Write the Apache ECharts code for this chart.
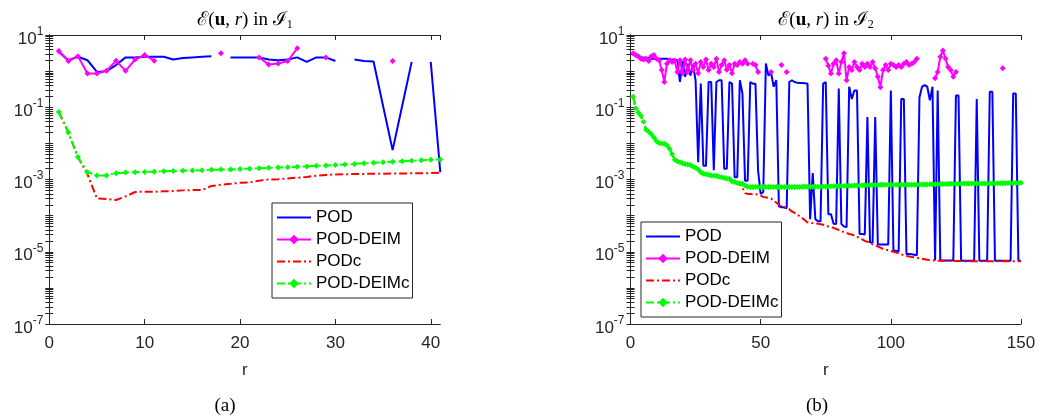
<!DOCTYPE html>
<html>
<head>
<meta charset="utf-8">
<title>E(u, r) in I1 / I2</title>
<script src="https://cdn.jsdelivr.net/npm/echarts@6/dist/echarts.min.js"></script>
<style>
  html, body { margin: 0; padding: 0; background: #fff; }
  #main { width: 1039px; height: 419px; }
</style>
</head>
<body>
<div id="main"></div>
<script>
(function () {
  // ---- data ----
  const seriesNames = ['POD', 'POD-DEIM', 'PODc', 'POD-DEIMc'];
  const yLabelTicks = [1e-7, 1e-5, 1e-3, 1e-1, 10];

  // panel (a): r = 1..41
  const rLeft = Array.from({ length: 41 }, (_, i) => i + 1);
  const podLeft = [
    3.4, 2.0, 2.5, 2.0, 0.95, 1.0, 1.47, 2.4, 2.4, 2.5,
    2.5, 2.5, 2.1, 2.3, 2.4, 2.5, 2.6, null, 2.4, 2.4,
    2.4, 2.4, 2.1, 2.0, 2.1, 2.4, 1.8, 2.4, 2.4, 1.9,
    null, 2.1, 1.9, 1.85, 0.108, 6.5e-3, 0.108, 1.8, null, 1.8,
    1.6e-3
  ];
  const deimLeft = [
    3.6, 1.9, 2.6, 0.86, 0.86, 1.02, 1.94, 1.02, 2.1, 2.8,
    1.94, null, null, null, null, null, null, 3.1, null, null,
    null, 2.4, 1.53, 1.63, 1.9, 4.3, null, null, 2.4, null,
    null, null, null, null, null, 1.9, null, null, null, null,
    null
  ];
  const podcLeft = [
    0.074, 0.020, 4.2e-3, 1.4e-3, 3.0e-4, 2.9e-4, 2.7e-4, 3.4e-4, 4.5e-4, 4.6e-4,
    4.6e-4, 4.7e-4, 4.8e-4, 5.0e-4, 5.1e-4, 5.1e-4, 6.6e-4, 7.2e-4, 7.6e-4, 8.1e-4,
    8.3e-4, 9.3e-4, 1.0e-3, 1.02e-3, 1.07e-3, 1.12e-3, 1.18e-3, 1.28e-3, 1.34e-3, 1.38e-3,
    1.4e-3, 1.42e-3, 1.43e-3, 1.44e-3, 1.45e-3, 1.46e-3, 1.47e-3, 1.48e-3, 1.49e-3, 1.5e-3,
    1.55e-3
  ];
  const deimcLeft = [
    0.074, 0.020, 4.2e-3, 1.6e-3, 1.3e-3, 1.3e-3, 1.5e-3, 1.55e-3, 1.6e-3, 1.62e-3,
    1.65e-3, 1.7e-3, 1.72e-3, 1.75e-3, 1.78e-3, 1.8e-3, 1.85e-3, 1.88e-3, 1.9e-3, 1.95e-3,
    2.0e-3, 2.05e-3, 2.1e-3, 2.15e-3, 2.2e-3, 2.25e-3, 2.3e-3, 2.4e-3, 2.45e-3, 2.5e-3,
    2.6e-3, 2.7e-3, 2.8e-3, 2.9e-3, 3.0e-3, 3.1e-3, 3.2e-3, 3.3e-3, 3.4e-3, 3.5e-3,
    3.6e-3
  ];

  // panel (b): r = 1..150
  const rRight = Array.from({ length: 150 }, (_, i) => i + 1);
  const podRight = [
    2.9, 2.6, 2.5, 2.4, 2.4, 2.3, 2.3, 2.2, 2.2, 2.2,
    2.2, 2.2, 2.2, 2.2, 2.1, 2.1, 2.1, 2.0, 0.50, 1.9,
    0.70, 1.6, 0.75, 1.5, 0.56, 3.0e-3, 0.45, 2.4e-3, 2.4e-3, 0.5,
    0.5, 1.8e-3, 0.5, 0.56, 0.56, 2.0e-3, 2.0e-3, 0.5, 0.45, 1.15e-3,
    1.15e-3, 0.56, 0.24, 9.3e-4, 9.3e-4, 0.5, 0.45, 0.45, 1.8e-3, 4.0e-4,
    4.5e-4, 1.63, 0.75, 0.9, 0.37, 0.56, 1.8e-4, 1.7e-4, 1.7e-4, 1.6e-4,
    0.5, 0.56, 0.5, 0.48, 0.47, 0.47, 0.46, 0.45, 8.0e-5, 1.5e-3,
    8.0e-5, 7.0e-5, 7.0e-5, 0.45, 0.5, 1.1e-4, 1.1e-4, 6.0e-5, 5.9e-5, 0.33,
    5.9e-5, 5.0e-5, 4.8e-5, 0.37, 0.17, 0.29, 0.29, 3.1e-5, 3.1e-5, 3.0e-5,
    0.054, 1.8e-5, 1.8e-5, 0.054, 1.6e-5, 1.6e-5, 1.6e-5, 1.6e-5, 1.6e-5, 0.29,
    1.07e-5, 1.07e-5, 1.0e-5, 0.17, 0.17, 8.7e-6, 8.7e-6, 8.5e-6, 8.3e-6, 8.0e-6,
    0.19, 0.37, 0.41, 0.37, 0.155, 0.37, 5.7e-6, 0.29, 5.7e-6, 5.7e-6,
    5.7e-6, 5.7e-6, 5.7e-6, 5.7e-6, 0.21, 0.21, 5.6e-6, 5.6e-6, 5.6e-6, 5.6e-6,
    5.6e-6, 5.6e-6, 0.17, 5.6e-6, 5.6e-6, 5.6e-6, 5.6e-6, 0.27, 0.27, 5.6e-6,
    5.6e-6, 5.6e-6, 5.6e-6, 5.6e-6, 5.6e-6, 5.6e-6, 0.24, 0.24, 5.6e-6, 5.6e-6
  ];
  const deimRight = [
    3.1, 2.8, 2.6, 2.2, 2.1, 2.2, 1.9, 2.6, 2.8, 2.2,
    2.0, 1.07, 0.5, 1.6, 2.0, 1.8, 1.9, 0.95, 2.0, 0.87,
    2.1, 0.95, 2.0, 1.07, 1.6, 0.87, 1.8, 1.3, 2.1, 1.07,
    1.6, 1.3, 2.2, 0.95, 1.47, 2.0, 1.1, 1.47, 0.87, 1.6,
    1.47, 1.8, 1.6, 2.0, 1.6, null, 1.6, 1.47, 0.95, null,
    null, null, null, 0.95, null, null, null, 1.47, null, 0.95,
    null, null, null, null, null, null, null, null, null, null,
    null, null, null, null, 2.2, 1.4, 0.86, 1.6, 2.0, 0.86,
    1.8, 3.1, 0.56, 1.3, 1.07, 1.8, 1.3, 1.07, 1.6, 1.3,
    1.6, 1.3, 1.8, 1.2, 0.7, 0.36, 1.07, 1.47, 1.07, 1.6,
    1.47, 1.3, 1.47, 1.3, 1.6, 1.8, 1.47, 1.6, 1.8, 2.2,
    null, null, null, null, null, null, 0.63, 0.95, 2.5, 3.7,
    2.25, 1.3, 1.07, 0.7, 0.95, null, null, null, null, null,
    null, null, null, null, null, null, null, null, null, null,
    null, null, 1.2, null, null, null, null, null, null, null
  ];
  const podcRight = [
    0.195, 0.093, 0.071, 0.058, 0.040, 0.024, 0.021, 0.018, 0.0145, 0.0115,
    0.0102, 0.0100, 0.0097, 0.0089, 0.0071, 0.0050, 0.0035, 0.0032, 0.0030, 0.0028,
    0.0027, 0.0026, 0.0025, 0.0023, 0.0021, 0.0019, 0.0016, 0.00145, 0.0014, 0.00135,
    0.0013, 0.00128, 0.00127, 0.0012, 0.00115, 0.0011, 0.00107, 0.0010, 8.9e-4, 8.3e-4,
    7.8e-4, 7.2e-4, 6.0e-4, 4.2e-4, 4.0e-4, 4.0e-4, 3.9e-4, 3.9e-4, 3.8e-4, 3.6e-4,
    3.3e-4, 3.2e-4, 3.1e-4, 3.0e-4, 2.6e-4, 2.3e-4, 2.0e-4, 1.8e-4, 1.7e-4, 1.6e-4,
    1.5e-4, 1.3e-4, 1.2e-4, 1.1e-4, 9.5e-5, 8.5e-5, 7.5e-5, 6.5e-5, 6.3e-5, 6.2e-5,
    6.1e-5, 6.0e-5, 5.8e-5, 5.6e-5, 5.3e-5, 5.0e-5, 4.8e-5, 4.6e-5, 4.3e-5, 4.0e-5,
    3.7e-5, 3.5e-5, 3.3e-5, 3.1e-5, 3.0e-5, 2.8e-5, 2.6e-5, 2.4e-5, 2.2e-5, 2.0e-5,
    1.9e-5, 1.75e-5, 1.6e-5, 1.5e-5, 1.4e-5, 1.3e-5, 1.2e-5, 1.15e-5, 1.1e-5, 1.05e-5,
    1.0e-5, 9.5e-6, 9.0e-6, 8.5e-6, 8.0e-6, 7.7e-6, 7.4e-6, 7.2e-6, 7.0e-6, 6.8e-6,
    6.6e-6, 6.4e-6, 6.2e-6, 6.0e-6, 5.9e-6, 5.8e-6, 5.7e-6, 5.6e-6, 5.6e-6, 5.6e-6,
    5.6e-6, 5.6e-6, 5.6e-6, 5.55e-6, 5.55e-6, 5.55e-6, 5.55e-6, 5.5e-6, 5.5e-6, 5.5e-6,
    5.5e-6, 5.5e-6, 5.5e-6, 5.5e-6, 5.5e-6, 5.5e-6, 5.5e-6, 5.5e-6, 5.5e-6, 5.5e-6,
    5.5e-6, 5.5e-6, 5.5e-6, 5.5e-6, 5.5e-6, 5.5e-6, 5.5e-6, 5.5e-6, 5.5e-6, 5.5e-6
  ];
  const deimcRight = [
    0.195, 0.093, 0.071, 0.058, 0.040, 0.024, 0.021, 0.018, 0.0145, 0.0115,
    0.0102, 0.0100, 0.0097, 0.0089, 0.0071, 0.0050, 0.0035, 0.0032, 0.0030, 0.0028,
    0.0027, 0.0026, 0.0025, 0.0023, 0.0021, 0.0019, 0.0016, 0.00145, 0.0014, 0.00135,
    0.0013, 0.00128, 0.00127, 0.0012, 0.00115, 0.0011, 0.00107, 0.00105, 8.9e-4, 8.5e-4,
    8.0e-4, 7.8e-4, 7.6e-4, 6.8e-4, 6.3e-4, 6.2e-4, 6.2e-4, 6.2e-4, 6.2e-4, 6.2e-4,
    6.2e-4, 6.2e-4, 6.2e-4, 6.2e-4, 6.2e-4, 6.2e-4, 6.2e-4, 6.2e-4, 6.2e-4, 6.2e-4,
    6.2e-4, 6.2e-4, 6.2e-4, 6.2e-4, 6.2e-4, 6.25e-4, 6.25e-4, 6.25e-4, 6.25e-4, 6.3e-4,
    6.3e-4, 6.3e-4, 6.3e-4, 6.4e-4, 6.4e-4, 6.4e-4, 6.5e-4, 6.5e-4, 6.5e-4, 6.6e-4,
    6.6e-4, 6.6e-4, 6.7e-4, 6.7e-4, 6.7e-4, 6.8e-4, 6.8e-4, 6.8e-4, 6.9e-4, 6.9e-4,
    6.9e-4, 7.0e-4, 7.0e-4, 7.0e-4, 7.0e-4, 7.1e-4, 7.1e-4, 7.1e-4, 7.1e-4, 7.1e-4,
    7.1e-4, 7.2e-4, 7.2e-4, 7.2e-4, 7.2e-4, 7.2e-4, 7.2e-4, 7.2e-4, 7.2e-4, 7.2e-4,
    7.3e-4, 7.3e-4, 7.3e-4, 7.3e-4, 7.4e-4, 7.4e-4, 7.4e-4, 7.4e-4, 7.5e-4, 7.5e-4,
    7.5e-4, 7.5e-4, 7.6e-4, 7.6e-4, 7.6e-4, 7.6e-4, 7.6e-4, 7.7e-4, 7.7e-4, 7.7e-4,
    7.7e-4, 7.7e-4, 7.8e-4, 7.8e-4, 7.8e-4, 7.8e-4, 7.8e-4, 7.8e-4, 7.9e-4, 7.9e-4,
    7.9e-4, 7.9e-4, 7.9e-4, 7.9e-4, 8.0e-4, 8.0e-4, 8.0e-4, 8.0e-4, 8.0e-4, 8.1e-4
  ];

  // ---- styling ----
  const axisColor = '#262626';
  const sansFont = "'Liberation Sans', Arial, Helvetica, sans-serif";
  const serifFont = "'Liberation Serif', 'DejaVu Serif', 'Times New Roman', serif";

  // minor log ticks 1..9 x 10^k, for the tick marks only
  const yMinorTicks = [];
  for (let e = -7; e <= 0; e++) {
    for (let k = 1; k <= 9; k++) yMinorTicks.push(k * Math.pow(10, e));
  }
  yMinorTicks.push(10);

  const myChart = echarts.init(document.getElementById('main'), null, { renderer: 'canvas' });

  const looks = [
    { color: '#0000ff', type: 'solid', symbol: 'none' },
    { color: '#ff00ff', type: 'solid', symbol: 'diamond' },
    { color: '#ff0000', type: [8, 3, 2, 3], symbol: 'none' },
    { color: '#00ff00', type: [8, 3, 2, 3], symbol: 'diamond' }
  ];

  function pairs(rs, ys) {
    return rs.map(function (r, i) { return [r, ys[i]]; });
  }

  function makeSeries(xIdx, yIdx, rs, cols) {
    return cols.map(function (ys, i) {
      const lk = looks[i];
      const marked = lk.symbol !== 'none';
      return {
        name: seriesNames[i],
        type: 'line',
        xAxisIndex: xIdx,
        yAxisIndex: yIdx,
        data: pairs(rs, ys),
        symbol: lk.symbol,
        symbolSize: 6,
        showSymbol: marked,
        showAllSymbol: true,
        connectNulls: false,
        itemStyle: { color: lk.color },
        lineStyle: { color: lk.color, width: 2, type: lk.type },
        emphasis: { disabled: true },
        z: 2 + i
      };
    });
  }

  function yAxisFor(gridIndex, pos, withLabels) {
    return {
      type: 'log',
      logBase: 10,
      gridIndex: gridIndex,
      position: pos,
      min: 1e-7,
      max: 10,
      axisLine: { show: true, lineStyle: { color: axisColor, width: 1 } },
      axisTick: { show: true, inside: true, length: 4, customValues: yMinorTicks, lineStyle: { color: axisColor } },
      splitLine: { show: false },
      axisLabel: {
        show: withLabels,
        customValues: yLabelTicks,
        margin: 6,
        color: '#262626',
        fontFamily: sansFont,
        fontSize: 17,
        formatter: function (v) {
          return '{b|10}{s|' + Math.round(Math.log10(v)) + '}';
        },
        rich: {
          b: { fontSize: 17, fontFamily: sansFont, color: '#262626', padding: [8, 0, 0, 0] },
          s: { fontSize: 12, fontFamily: sansFont, color: '#262626', padding: [0, 0, 7, 0] }
        }
      }
    };
  }

  function xAxisFor(gridIndex, pos, maxR, step, withLabels) {
    return {
      type: 'value',
      gridIndex: gridIndex,
      position: pos,
      min: 0,
      max: maxR,
      interval: step,
      name: withLabels ? 'r' : '',
      nameLocation: 'middle',
      nameGap: 38,
      nameTextStyle: { fontSize: 17, fontFamily: sansFont, color: '#262626' },
      axisLine: { show: true, lineStyle: { color: axisColor, width: 1 } },
      axisTick: { show: true, inside: true, length: 5, lineStyle: { color: axisColor } },
      splitLine: { show: false },
      axisLabel: {
        show: withLabels,
        margin: 11,
        showMaxLabel: maxR % step === 0,
        color: '#262626',
        fontFamily: sansFont,
        fontSize: 17
      }
    };
  }

  // unmarked series: hide the legend's default dot, keep the line
  const legendItems = seriesNames.map(function (name, i) {
    return looks[i].symbol === 'none' ? { name: name, itemStyle: { opacity: 0 } } : { name: name };
  });

  function legendAt(left, top) {
    return {
      left: left,
      top: top,
      orient: 'vertical',
      data: legendItems,
      itemWidth: 34,
      itemHeight: 12,
      itemGap: 5,
      padding: [6, 3, 6, 4],
      backgroundColor: '#fff',
      borderColor: axisColor,
      borderWidth: 1,
      selectedMode: false,
      textStyle: { fontSize: 17, fontFamily: sansFont, color: '#000', lineHeight: 17 }
    };
  }

  const titleRich = {
    n: { fontSize: 19, fontFamily: serifFont, color: '#000' },
    b: { fontSize: 19, fontFamily: serifFont, fontWeight: 'bold', color: '#000' },
    i: { fontSize: 19, fontFamily: serifFont, fontStyle: 'italic', color: '#000' },
    s: { fontSize: 12, fontFamily: serifFont, color: '#000', padding: [10, 0, 0, 0] }
  };

  function titleText(x, sub) {
    return {
      type: 'text',
      x: x,
      y: 20,
      style: {
        text: '{n|ℰ(}{b|u}{n|, }{i|r}{n|) in ℐ}{s|' + sub + '}',
        rich: titleRich,
        align: 'center',
        verticalAlign: 'middle'
      }
    };
  }

  function captionText(x, txt) {
    return {
      type: 'text',
      x: x,
      y: 406,
      style: { text: txt, font: '19px ' + serifFont, fill: '#000', align: 'center', verticalAlign: 'middle' }
    };
  }

  const option = {
    animation: false,
    backgroundColor: '#fff',
    grid: [
      { left: 49.3, top: 35, width: 391, height: 289, outerBoundsMode: 'none', show: false },
      { left: 630.5, top: 35, width: 390.5, height: 289, outerBoundsMode: 'none', show: false }
    ],
    xAxis: [
      xAxisFor(0, 'bottom', 41, 10, true),
      xAxisFor(0, 'top', 41, 10, false),
      xAxisFor(1, 'bottom', 150, 50, true),
      xAxisFor(1, 'top', 150, 50, false)
    ],
    yAxis: [
      yAxisFor(0, 'left', true),
      yAxisFor(0, 'right', false),
      yAxisFor(1, 'left', true),
      yAxisFor(1, 'right', false)
    ],
    legend: [legendAt(272, 203), legendAt(641, 222)],
    graphic: [
      titleText(245, '1'),
      titleText(826, '2'),
      captionText(225, '(a)'),
      captionText(817, '(b)')
    ],
    series: makeSeries(0, 0, rLeft, [podLeft, deimLeft, podcLeft, deimcLeft])
      .concat(makeSeries(2, 2, rRight, [podRight, deimRight, podcRight, deimcRight]))
  };

  myChart.setOption(option, true);
})();
</script>
</body>
</html>
